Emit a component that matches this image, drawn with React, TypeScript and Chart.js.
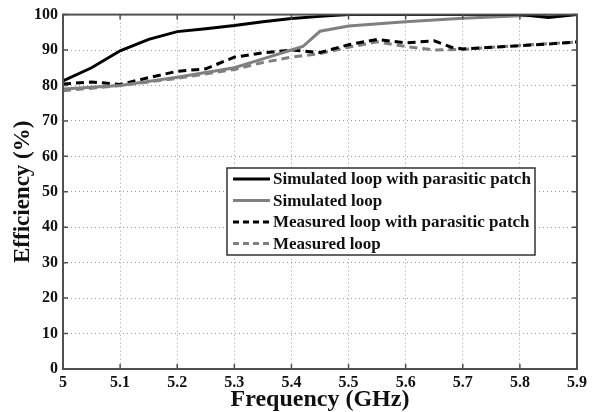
import React, { useEffect, useRef } from "react";
import { Chart, registerables } from "chart.js";

Chart.register(...registerables);

const simPatchX = [5.0, 5.05, 5.1, 5.15, 5.2, 5.25, 5.3, 5.35, 5.4, 5.45, 5.5, 5.6, 5.7, 5.8, 5.85, 5.9];
const simPatchY = [81.3, 85, 89.8, 93, 95.2, 96, 96.9, 98, 98.9, 99.5, 100, 100, 100, 100, 99.2, 100];

const simLoopX = [5.0, 5.1, 5.2, 5.3, 5.35, 5.4, 5.42, 5.45, 5.5, 5.6, 5.7, 5.8, 5.9];
const simLoopY = [79, 80, 82.3, 85, 87.5, 90, 91, 95.3, 96.8, 98, 99, 99.7, 100];

const measPatchX = [5.0, 5.05, 5.1, 5.15, 5.2, 5.25, 5.3, 5.35, 5.4, 5.45, 5.5, 5.55, 5.6, 5.65, 5.68, 5.7, 5.75, 5.8, 5.85, 5.9];
const measPatchY = [80.4, 81, 80.3, 82.2, 84, 84.7, 88, 89.2, 90, 89.3, 91.5, 93, 92, 92.6, 90.8, 90.3, 90.8, 91.2, 91.7, 92.3];

const measLoopX = [5.0, 5.1, 5.2, 5.3, 5.35, 5.4, 5.45, 5.5, 5.55, 5.6, 5.65, 5.7, 5.8, 5.9];
const measLoopY = [78.5, 80, 82, 84.5, 86.5, 88, 89, 90.8, 92.3, 91, 90, 90.2, 91.3, 92.3];

const legendLabels = [
  "Simulated loop with parasitic patch",
  "Simulated loop",
  "Measured loop with parasitic patch",
  "Measured loop",
];

const xTickLabels = ["5", "5.1", "5.2", "5.3", "5.4", "5.5", "5.6", "5.7", "5.8", "5.9"];

const FONT = "'Liberation Serif', 'Times New Roman', serif";

const toPts = (xs: number[], ys: number[]) => xs.map((x, i) => ({ x, y: ys[i] }));

export default function App() {
  const ref = useRef<HTMLCanvasElement | null>(null);

  useEffect(() => {
    if (!ref.current) return;
    const styles = [
      { color: "#000000", dash: [] as number[] },
      { color: "#808080", dash: [] as number[] },
      { color: "#000000", dash: [8, 5] },
      { color: "#808080", dash: [8, 5] },
    ];
    const frame = {
      id: "frame",
      afterDraw(chart: any) {
        const { ctx, chartArea: a } = chart;
        ctx.save();
        ctx.strokeStyle = "#505050";
        ctx.lineWidth = 2;
        ctx.strokeRect(a.left, a.top, a.right - a.left, a.bottom - a.top);
        ctx.lineWidth = 1.5;
        const xs = chart.scales.x, ys = chart.scales.y;
        xs.ticks.forEach((t: any) => {
          const px = xs.getPixelForValue(t.value);
          ctx.beginPath();
          ctx.moveTo(px, a.bottom);
          ctx.lineTo(px, a.bottom - 5);
          ctx.moveTo(px, a.top);
          ctx.lineTo(px, a.top + 5);
          ctx.stroke();
        });
        ys.ticks.forEach((t: any) => {
          const py = ys.getPixelForValue(t.value);
          ctx.beginPath();
          ctx.moveTo(a.left, py);
          ctx.lineTo(a.left + 5, py);
          ctx.moveTo(a.right, py);
          ctx.lineTo(a.right - 5, py);
          ctx.stroke();
        });
        // legend
        const lx = 227, ly = 168, lw = 308, lh = 87;
        ctx.fillStyle = "#ffffff";
        ctx.fillRect(lx, ly, lw, lh);
        ctx.strokeStyle = "#333333";
        ctx.lineWidth = 1.5;
        ctx.strokeRect(lx, ly, lw, lh);
        ctx.font = `bold 17px ${FONT}`;
        ctx.textBaseline = "middle";
        ctx.textAlign = "left";
        legendLabels.forEach((lab, i) => {
          const y = ly + 11 + i * 21.5;
          ctx.strokeStyle = styles[i].color;
          ctx.lineWidth = 3;
          ctx.setLineDash(styles[i].dash.length ? [6, 4] : []);
          ctx.beginPath();
          ctx.moveTo(lx + 6, y);
          ctx.lineTo(lx + 43, y);
          ctx.stroke();
          ctx.setLineDash([]);
          ctx.fillStyle = "#111111";
          ctx.fillText(lab, lx + 46, y + 1);
        });
        ctx.restore();
      },
    };
    const chart = new Chart(ref.current, {
      type: "line",
      data: {
        datasets: [
          toPts(simPatchX, simPatchY),
          toPts(simLoopX, simLoopY),
          toPts(measPatchX, measPatchY),
          toPts(measLoopX, measLoopY),
        ].map((d, i) => ({
          label: legendLabels[i],
          data: d,
          borderColor: styles[i].color,
          borderDash: styles[i].dash,
          borderWidth: 3,
          pointRadius: 0,
          tension: 0,
          fill: false,
        })),
      },
      options: {
        responsive: false,
        animation: false,
        layout: { padding: { top: 14, right: 15, left: 0, bottom: 0 } },
        plugins: { legend: { display: false }, tooltip: { enabled: false } },
        scales: {
          x: {
            type: "linear",
            min: 5,
            max: 5.9,
            afterBuildTicks: (s: any) => {
              s.ticks = xTickLabels.map((t) => ({ value: parseFloat(t) }));
            },
            afterFit: (s: any) => {
              s.height = 43;
            },
            ticks: {
              callback: (_v: any, i: number) => xTickLabels[i],
              color: "#111",
              font: { family: FONT, size: 16, weight: "bold" },
              padding: 4,
              maxRotation: 0,
            },
            grid: { color: "#9a9a9a", lineWidth: 1, tickLength: 0, drawTicks: false },
            border: { display: false, dash: [1, 3] },
            title: {
              display: true,
              text: "Frequency (GHz)",
              color: "#111",
              font: { family: FONT, size: 24, weight: "bold", lineHeight: 1.0 },
              padding: { top: 0, bottom: 0 },
            },
          },
          y: {
            min: 0,
            max: 100,
            ticks: {
              stepSize: 10,
              color: "#111",
              font: { family: FONT, size: 16, weight: "bold" },
              padding: 5,
            },
            afterFit: (s: any) => {
              s.width = 63;
            },
            grid: { color: "#9a9a9a", lineWidth: 1, tickLength: 0, drawTicks: false },
            border: { display: false, dash: [1, 3] },
            title: {
              display: true,
              text: "Efficiency (%)",
              color: "#111",
              font: { family: FONT, size: 23, weight: "bold" },
              padding: { top: 9, bottom: 0 },
            },
          },
        },
      },
      plugins: [frame],
    } as any);
    return () => chart.destroy();
  }, []);

  return (
    <div style={{ position: "fixed", left: 0, top: 0, width: 592, height: 412, background: "#fff" }}>
      <canvas ref={ref} width={592} height={412} />
    </div>
  );
}
